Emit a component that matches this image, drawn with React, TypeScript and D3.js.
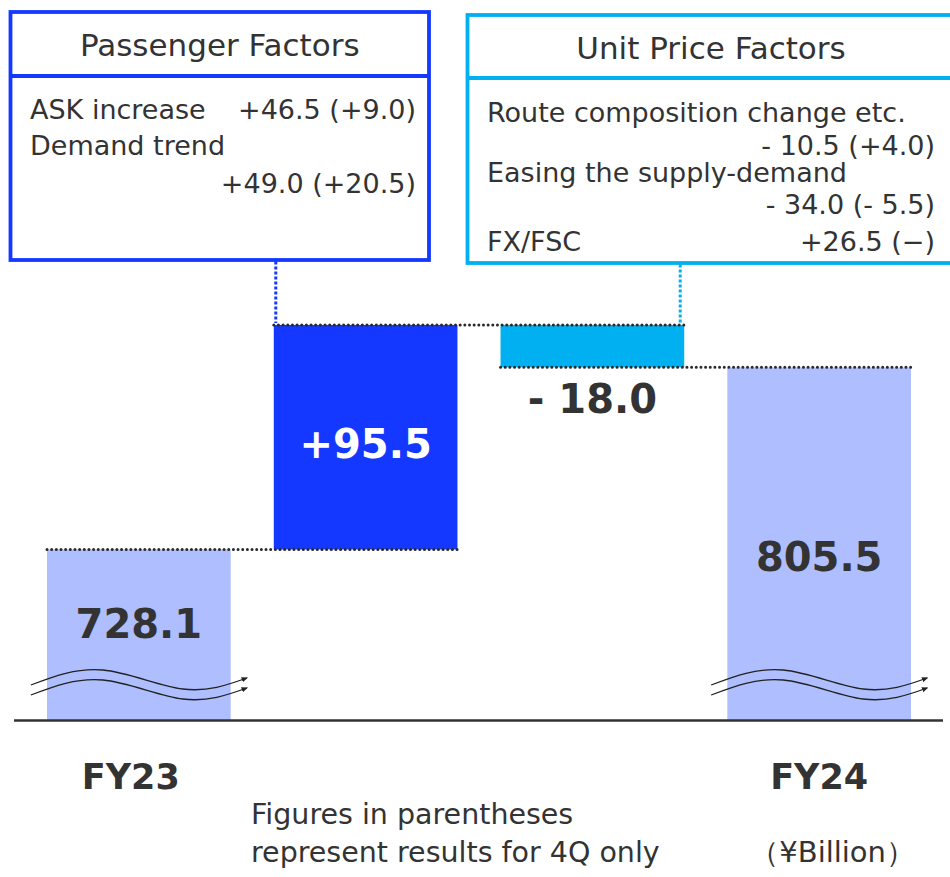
import React from 'react';
import * as d3 from 'd3';

// waterfall data (¥Billion)
const categories = ['FY23', 'Passenger Factors', 'Unit Price Factors', 'FY24'];
const amounts = [728.1, 95.5, -18.0, 805.5];
const isTotal = [true, false, false, true];
const valueLabels = ['728.1', '+95.5', '- 18.0', '805.5'];
const axisLabels = ['FY23', '', '', 'FY24'];

// factor boxes
const passengerLines = [
  { left: 'ASK increase', right: '+46.5 (+9.0)' },
  { left: 'Demand trend', right: '' },
  { left: '', right: '+49.0 (+20.5)' },
];
const unitPriceLines = [
  { left: 'Route composition change etc.', right: '' },
  { left: '', right: '- 10.5 (+4.0)' },
  { left: 'Easing the supply-demand', right: '' },
  { left: '', right: '- 34.0 (- 5.5)' },
  { left: 'FX/FSC', right: '+26.5 (\u2212)' },
];

const W = 950;
const H = 877;
const FONT = '"DejaVu Sans", Verdana, sans-serif';
const TEXT = '#333333';
const LIGHT = '#AEBEFF';
const DARK_BLUE = '#1438FF';
const CYAN = '#00B0F0';

const App: React.FC = () => {
  const x = d3.scaleBand<string>()
    .domain(categories)
    .range([47, 911])
    .paddingInner(0.19)
    .paddingOuter(0);

  const y = d3.scaleLinear().domain([655.5, 830]).range([720, 720 - 174.5 * 2.35]);
  const base = y.domain()[0];

  // compute bar extents
  let running = 0;
  const bars = categories.map((c, i) => {
    let lo: number, hi: number;
    if (isTotal[i]) {
      lo = base;
      hi = amounts[i];
      running = amounts[i];
    } else {
      const start = running;
      running = running + amounts[i];
      lo = Math.min(start, running);
      hi = Math.max(start, running);
    }
    const color = isTotal[i] ? LIGHT : amounts[i] >= 0 ? DARK_BLUE : CYAN;
    return { c, i, lo, hi, end: running, color };
  });

  const bw = x.bandwidth();

  // connector levels between bars
  const connectors = bars.slice(0, -1).map((b, i) => {
    const level = isTotal[i] ? b.hi : b.end;
    return {
      x1: x(categories[i])!,
      x2: x(categories[i + 1])! + bw,
      y: y(level),
    };
  });

  const wave = d3.line().curve(d3.curveNatural);
  const wavePts = (cx: number, y0: number): [number, number][] => [
    [cx - 108, y0 + 5],
    [cx - 36, y0 - 10],
    [cx + 44, y0 + 9],
    [cx + 108, y0 - 2],
  ];

  const pX = 10.5, pY = 12, pW = 418.5, pH = 248;
  const uX = 467.5, uY = 15, uW = 500, uH = 248;
  const pBase = [119, 155, 192.5];
  const uBase = [121.5, 155, 181.5, 213.5, 250.5];

  return (
    <div style={{ position: 'absolute', left: 0, top: 0 }}>
      <svg width={W} height={H} style={{ display: 'block', background: '#fff' }} fontFamily={FONT}>
        <defs>
          <marker id="arr" viewBox="0 0 10 10" refX="8" refY="5" markerWidth="5" markerHeight="5" orient="auto">
            <path d="M0,1 L10,5 L0,9 Z" fill="#222" />
          </marker>
        </defs>

        {/* bars */}
        {bars.map((b) => (
          <rect key={b.c} x={x(b.c)} y={y(b.hi)} width={bw} height={y(b.lo) - y(b.hi)} fill={b.color} />
        ))}

        {/* axis line */}
        <line x1={14} x2={943} y1={y(base) + 0.5} y2={y(base) + 0.5} stroke="#333" strokeWidth={2.5} />

        {/* dotted connectors */}
        {connectors.map((c, i) => (
          <line key={i} x1={c.x1} x2={c.x2} y1={c.y} y2={c.y} stroke="#2a2a2a" strokeWidth={3}
            strokeDasharray="0.01 4.65" strokeLinecap="round" />
        ))}

        {/* vertical dotted links to boxes */}
        <line x1={x(categories[1])! + 2} x2={x(categories[1])! + 2} y1={pY + pH + 1.5} y2={connectors[1].y - 2}
          stroke={DARK_BLUE} strokeWidth={3} strokeDasharray="3 2" />
        <line x1={x(categories[2])! + bw - 4} x2={x(categories[2])! + bw - 4} y1={uY + uH + 1.5} y2={connectors[1].y - 2}
          stroke={CYAN} strokeWidth={3} strokeDasharray="3 2" />

        {/* break marks */}
        {[0, 3].map((i) => {
          const cx = x(categories[i])! + bw / 2;
          return (
            <g key={i}>
              <path d={wave(wavePts(cx, 680)) || ''} fill="none" stroke="#222" strokeWidth={1.3} markerEnd="url(#arr)" />
              <path d={wave(wavePts(cx, 690)) || ''} fill="none" stroke="#222" strokeWidth={1.3} markerEnd="url(#arr)" />
            </g>
          );
        })}

        {/* value labels */}
        {bars.map((b) => {
          const cx = x(b.c)! + bw / 2;
          let ty: number;
          let fill = TEXT;
          if (isTotal[b.i]) {
            ty = b.i === 0 ? 638 : 571;
          } else if (amounts[b.i] >= 0) {
            ty = (y(b.hi) + y(b.lo)) / 2 + 21;
            fill = '#ffffff';
          } else {
            ty = y(b.lo) + 46;
          }
          return (
            <text key={b.c} x={cx} y={ty} textAnchor="middle" fontSize={40} fontWeight="bold" fill={fill}>
              {valueLabels[b.i]}
            </text>
          );
        })}

        {/* category labels */}
        {axisLabels.map((l, i) => l && (
          <text key={l} x={x(categories[i])! + bw / 2 - (i === 0 ? 8 : 0)} y={789} textAnchor="middle"
            fontSize={35} fontWeight="bold" fill={TEXT}>{l}</text>
        ))}

        {/* Passenger Factors box */}
        <rect x={pX} y={pY} width={pW} height={pH} fill="none" stroke={DARK_BLUE} strokeWidth={3.8} />
        <line x1={pX} x2={pX + pW} y1={76} y2={76} stroke={DARK_BLUE} strokeWidth={3.8} />
        <text x={pX + pW / 2} y={56} textAnchor="middle" fontSize={31} fill={TEXT}>{categories[1]}</text>
        {passengerLines.map((ln, i) => (
          <g key={i}>
            {ln.left && <text x={30} y={pBase[i]} fontSize={27} fill={TEXT}>{ln.left}</text>}
            {ln.right && <text x={416} y={pBase[i]} textAnchor="end" fontSize={27} fill={TEXT}>{ln.right}</text>}
          </g>
        ))}

        {/* Unit Price Factors box */}
        <rect x={uX} y={uY} width={uW} height={uH} fill="none" stroke={CYAN} strokeWidth={3.8} />
        <line x1={uX} x2={uX + uW} y1={78} y2={78} stroke={CYAN} strokeWidth={3.8} />
        <text x={711} y={59} textAnchor="middle" fontSize={31} fill={TEXT}>{categories[2]}</text>
        {unitPriceLines.map((ln, i) => (
          <g key={i}>
            {ln.left && <text x={487} y={uBase[i]} fontSize={27} fill={TEXT}>{ln.left}</text>}
            {ln.right && <text x={935} y={uBase[i]} textAnchor="end" fontSize={27} fill={TEXT}>{ln.right}</text>}
          </g>
        ))}

        {/* notes */}
        <text x={251} y={824} fontSize={28.5} fill={TEXT}>Figures in parentheses</text>
        <text x={251} y={862} fontSize={28.5} fill={TEXT}>represent results for 4Q only</text>
        <text x={915} y={862} textAnchor="end" fontSize={29} fill={TEXT}>（¥Billion）</text>
      </svg>
    </div>
  );
};

export default App;
